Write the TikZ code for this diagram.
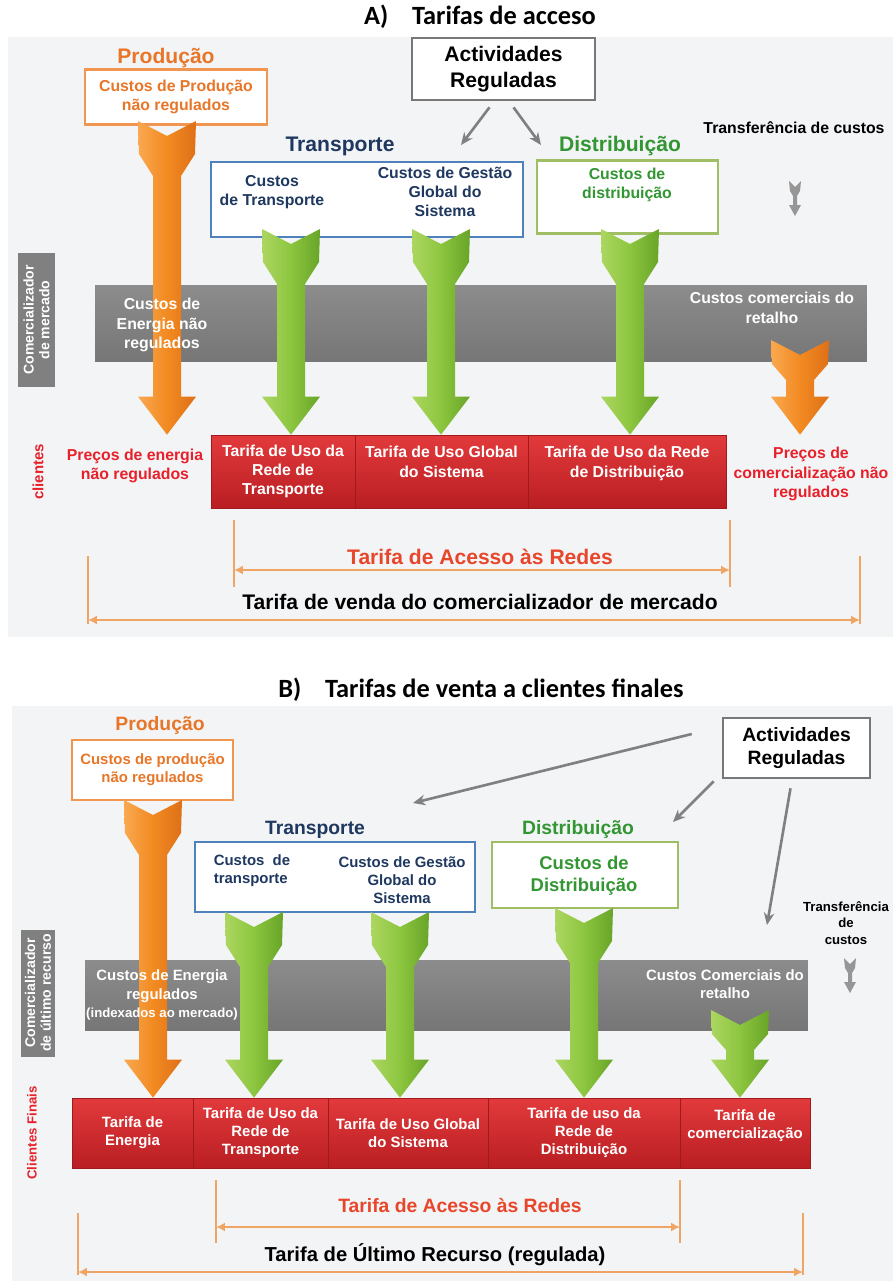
\documentclass[tikz,border=0pt]{standalone}
\usepackage{fontspec}
\setmainfont{Liberation Sans}
\newfontfamily\titulo{Carlito}
\usetikzlibrary{arrows.meta,calc}

\definecolor{fondo}{RGB}{243,244,246}
\definecolor{naranjaT}{RGB}{232,118,40}
\definecolor{naranjaB}{RGB}{240,150,80}
\definecolor{naranjaC}{RGB}{249,168,80}
\definecolor{naranjaM}{RGB}{242,138,33}
\definecolor{naranjaO}{RGB}{222,112,24}
\definecolor{naranjaL}{RGB}{240,165,100}
\definecolor{azulT}{RGB}{31,56,96}
\definecolor{azulB}{RGB}{79,129,189}
\definecolor{verdeT}{RGB}{50,150,50}
\definecolor{verdeB}{RGB}{160,190,100}
\definecolor{verdeC}{RGB}{172,214,96}
\definecolor{verdeM}{RGB}{140,198,63}
\definecolor{verdeO}{RGB}{104,164,40}
\definecolor{grisF}{RGB}{128,128,128}
\definecolor{grisB}{RGB}{120,120,120}
\definecolor{grisL}{RGB}{128,128,128}
\definecolor{grisI}{RGB}{150,150,150}
\definecolor{bandaC}{RGB}{140,140,140}
\definecolor{bandaO}{RGB}{118,118,118}
\definecolor{rojoC}{RGB}{226,58,60}
\definecolor{rojoO}{RGB}{185,30,34}
\definecolor{rojoB}{RGB}{160,25,28}
\definecolor{rojoT}{RGB}{232,32,42}
\definecolor{acceso}{RGB}{232,70,42}

% flecha gruesa: [cuello]{cola}{punta}{estilo}
\newcommand{\flechagorda}[4][55]{%
  \path[#4] ($(#2)+(-29,0)$) -- ($(#2)+(-28,0.6*#1)$) -- ($(#2)+(-14,#1)$)
    -- ($(#3)+(-14,-38)$) -- ($(#3)+(-29,-38)$) -- (#3) -- ($(#3)+(29,-38)$)
    -- ($(#3)+(14,-38)$) -- ($(#2)+(14,#1)$) -- ($(#2)+(28,0.6*#1)$)
    -- ($(#2)+(29,0)$) -- ($(#2)+(0,15)$) -- cycle;}
% icono de transferencia de custos
\newcommand{\icono}[2]{%
  \fill[grisI] (#1-6,#2) -- (#1,#2+6) -- (#1+6,#2) -- (#1+5,#2+10) -- (#1+2,#2+15)
    -- (#1+2,#2+24) -- (#1+6,#2+24) -- (#1,#2+35) -- (#1-6,#2+24) -- (#1-2,#2+24)
    -- (#1-2,#2+15) -- (#1-5,#2+10) -- cycle;}

\begin{document}
\begin{tikzpicture}[x=0.02cm, y=-0.02cm,
  tit/.style={font=\titulo\bfseries\fontsize{15}{18}\selectfont},
  etiq/.style={font=\bfseries\fontsize{12}{14}\selectfont, inner sep=1pt},
  etiqB/.style={font=\bfseries\fontsize{11}{13}\selectfont, inner sep=1pt},
  txt/.style={font=\bfseries\fontsize{9}{11}\selectfont, align=center, inner sep=1pt},
  txtB/.style={font=\bfseries\fontsize{8.5}{10.3}\selectfont, align=center, inner sep=1pt},
  caja/.style={line width=1.3pt, fill=white},
  cajaact/.style={draw=grisB, line width=1.5pt, fill=white, align=center},
  banda/.style={top color=bandaC, bottom color=bandaO},
  lateral/.style={fill=grisL, text=white, rotate=90, align=center, inner sep=1pt,
    font=\bfseries\fontsize{8}{9}\selectfont},
  tarifa/.style={top color=rojoC, bottom color=rojoO, draw=rojoB, text=white},
  flechaN/.style={left color=naranjaC, right color=naranjaO, middle color=naranjaM},
  flechaV/.style={left color=verdeC, right color=verdeO, middle color=verdeM},
  gris/.style={draw=grisF, line width=1.5pt, -{Stealth[length=7pt,width=6pt]}},
  cota/.style={draw=naranjaL, line width=1.6pt},
  doble/.style={{Latex[length=5pt,width=5pt]}-{Latex[length=5pt,width=5pt]}}]

  \useasboundingbox (0,0) rectangle (893,1281);
  % Fondos
  \fill[fondo] (8,37) rectangle (893,637);
  \fill[fondo] (12,706) rectangle (893,1281);

  % ================= A) Tarifas de acceso
  \node[tit] (titA) at (480,17) {A)\hspace{0.9em}Tarifas de acceso};

  % Produccion
  \node[etiq, text=naranjaT] (prodA-e) at (166,58) {Produção};
  \node[caja, draw=naranjaB, txt, text=naranjaT, minimum width=3.64cm, minimum height=1.1cm] (prodA) at (176,97) {Custos de Produção\\não regulados};

  % Actividades reguladas
  \node[cajaact, font=\bfseries\fontsize{12}{14.5}\selectfont, minimum width=3.66cm, minimum height=1.24cm] (actA) at (503.5,69) {Actividades\\Reguladas};
  \coordinate (actA-1) at (461,145);
  \coordinate (actA-2) at (541,145);
  \draw[gris] ($(actA.south)+(-14,6)$) -- (actA-1);
  \draw[gris] ($(actA.south)+(10,6)$) -- (actA-2);

  % Transporte
  \node[etiq, text=azulT] (trA-e) at (340,146) {Transporte};
  \node[caja, draw=azulB, minimum width=6.24cm, minimum height=1.5cm] (trA) at (367,199.5) {};
  \node[txt, text=azulT] (trA-1) at (272,192) {Custos\\de Transporte};
  \node[txt, text=azulT] (trA-2) at (445,192) {Custos de Gestão\\Global do\\Sistema};

  % Distribucion
  \node[etiq, text=verdeT] (diA-e) at (620,146) {Distribuição};
  \node[caja, draw=verdeB, minimum width=3.62cm, minimum height=1.46cm] (diA) at (627.5,197) {};
  \node[txt, text=verdeT] (diA-1) at (627,185) {Custos de\\distribuição};

  % Transferencia de custos
  \node[txt] (tcA) at (794,128) {Transferência de custos};
  \icono{795}{181}

  % Comercializador
  \node[banda, minimum width=15.44cm, minimum height=1.54cm] (bA) at (481,323.5) {};
  \node[lateral, minimum width=2.68cm, minimum height=0.74cm] (latA) at (36.5,320) {Comercializador\\de mercado};
  \node[txt, text=rojoT, rotate=90, font=\bfseries\fontsize{8.5}{10}\selectfont] (clA) at (38,472) {clientes};

  % Tarifas
  \node[tarifa, txt, minimum width=2.88cm, minimum height=1.46cm] (tA1) at (283,471.5) {Tarifa de Uso da\\Rede de\\Transporte};
  \node[tarifa, txt, minimum width=3.46cm, minimum height=1.46cm] (tA2) at (441.5,471.5) {Tarifa de Uso Global\\do Sistema\\\mbox{}};
  \node[tarifa, txt, minimum width=3.96cm, minimum height=1.46cm] (tA3) at (627,471.5) {Tarifa de Uso da Rede\\de Distribuição\\\mbox{}};
  \node[txt, text=rojoT] (peA) at (135,466) {Preços de energia\\não regulados};
  \node[txt, text=rojoT] (pcA) at (811,474) {Preços de\\comercialização não\\regulados};

  % Flechas gruesas
  \coordinate (fA0) at (167,121);
  \coordinate (fA1) at (291,229);
  \coordinate (fA2) at (441,229);
  \coordinate (fA3) at (630,229);
  \coordinate (fA4) at (800,340);
  \foreach \i in {0,...,4} {\coordinate (pA\i) at (fA\i |- tA1.north);}
  \flechagorda{fA0}{pA0}{flechaN}
  \foreach \i in {1,2,3} {\flechagorda{fA\i}{pA\i}{flechaV}}
  \flechagorda[40]{fA4}{pA4}{flechaN}
  \node[txt, text=white] (ceA) at (162,325) {Custos de\\Energia não\\regulados};
  \node[txt, text=white] (ccA) at (772,308) {Custos comerciais do\\retalho};

  % Tarifa de acceso a las redes
  \coordinate (acA-i) at (234,570);
  \coordinate (acA-d) at (730,570);
  \draw[cota] ($(acA-i)+(0,-50)$) -- ($(acA-i)+(0,17)$);
  \draw[cota] ($(acA-d)+(0,-50)$) -- ($(acA-d)+(0,17)$);
  \draw[cota, doble] (acA-i) -- (acA-d);
  \node[etiq, text=acceso] (acA) at (480,557) {Tarifa de Acesso às Redes};

  % Tarifa de venda
  \coordinate (vA-i) at (88,620);
  \coordinate (vA-d) at (860,620);
  \draw[cota] ($(vA-i)+(0,-64)$) -- ($(vA-i)+(0,4)$);
  \draw[cota] ($(vA-d)+(0,-64)$) -- ($(vA-d)+(0,4)$);
  \draw[cota, doble] (vA-i) -- (vA-d);
  \node[etiq] (vA) at (480,602) {Tarifa de venda do comercializador de mercado};

  % ================= B) Tarifas de venta a clientes finales
  \node[tit] (titB) at (481,690) {B)\hspace{0.9em}Tarifas de venta a clientes finales};

  % Produccion
  \node[etiqB, text=naranjaT] (prodB-e) at (160,725) {Produção};
  \node[caja, draw=naranjaB, txtB, text=naranjaT, minimum width=3.22cm, minimum height=1.2cm] (prodB) at (152.5,770) {Custos de produção\\não regulados};

  % Actividades reguladas
  \node[cajaact, font=\bfseries\fontsize{11}{13.5}\selectfont, minimum width=2.94cm, minimum height=1.2cm] (actB) at (796.5,748) {Actividades\\Reguladas};
  \coordinate (actB-1) at (413,803);
  \coordinate (actB-2) at (673,822);
  \coordinate (actB-3) at (767,925);
  \draw[gris] ($(actB.west)+(-30,-14)$) -- (actB-1);
  \draw[gris] ($(actB.south west)+(-8,2)$) -- (actB-2);
  \draw[gris] ($(actB.south)+(-6,9)$) -- (actB-3);

  % Transporte
  \node[etiqB, text=azulT] (trB-e) at (315,830) {Transporte};
  \node[caja, draw=azulB, minimum width=5.6cm, minimum height=1.4cm] (trB) at (335,877) {};
  \node[txtB, text=azulT, align=left] (trB-1) at (252,871) {Custos\ \ de\\transporte};
  \node[txtB, text=azulT] (trB-2) at (402,880) {Custos de Gestão\\Global do\\Sistema};

  % Distribucion
  \node[etiqB, text=verdeT] (diB-e) at (578,829) {Distribuição};
  \node[caja, draw=verdeB, minimum width=3.72cm, minimum height=1.32cm] (diB) at (585,875) {};
  \node[txtB, text=verdeT, font=\bfseries\fontsize{10.5}{12.5}\selectfont] (diB-1) at (584,876) {Custos de\\Distribuição};

  % Transferencia de custos
  \node[txtB, font=\bfseries\fontsize{7.5}{9.2}\selectfont] (tcB) at (846,923) {Transferência\\de\\custos};
  \icono{850}{958}

  % Comercializador de ultimo recurso
  \node[banda, minimum width=14.46cm, minimum height=1.4cm] (bB) at (446.5,995) {};
  \node[lateral, minimum width=2.54cm, minimum height=0.7cm] (latB) at (38,993) {Comercializador\\de último recurso};
  \node[txtB, text=rojoT, rotate=90, font=\bfseries\fontsize{7.5}{9}\selectfont] (clB) at (32,1133) {Clientes Finais};

  % Tarifas
  \node[tarifa, txtB, minimum width=2.42cm, minimum height=1.4cm] (tB1) at (132.5,1133) {Tarifa de\\Energia};
  \node[tarifa, txtB, minimum width=2.7cm, minimum height=1.4cm] (tB2) at (260.5,1133) {Tarifa de Uso da\\Rede de\\Transporte};
  \node[tarifa, txtB, minimum width=3.2cm, minimum height=1.4cm] (tB3) at (408,1133) {Tarifa de Uso Global\\do Sistema};
  \node[tarifa, txtB, minimum width=3.84cm, minimum height=1.4cm] (tB4) at (584,1133) {Tarifa de uso da\\Rede de\\Distribuição};
  \node[tarifa, txtB, minimum width=2.6cm, minimum height=1.4cm] (tB5) at (745,1133) {Tarifa de\\comercialização\\\mbox{}};

  % Flechas gruesas
  \coordinate (fB0) at (153,800);
  \coordinate (fB1) at (254,912);
  \coordinate (fB2) at (400,912);
  \coordinate (fB3) at (584,908);
  \coordinate (fB4) at (740,1010);
  \foreach \i in {0,...,4} {\coordinate (pB\i) at (fB\i |- tB1.north);}
  \flechagorda{fB0}{pB0}{flechaN}
  \foreach \i in {1,2,3} {\flechagorda{fB\i}{pB\i}{flechaV}}
  \flechagorda[40]{fB4}{pB4}{flechaV}
  \node[txtB, text=white] (ceB) at (162,995) {Custos de Energia\\regulados\\{\fontsize{7.5}{9}\selectfont(indexados ao mercado)}};
  \node[txtB, text=white] (ccB) at (725,984) {Custos Comerciais do\\retalho};

  % Tarifa de acceso a las redes
  \coordinate (acB-i) at (216,1227);
  \coordinate (acB-d) at (680,1227);
  \draw[cota] ($(acB-i)+(0,-47)$) -- ($(acB-i)+(0,16)$);
  \draw[cota] ($(acB-d)+(0,-47)$) -- ($(acB-d)+(0,16)$);
  \draw[cota, doble] (acB-i) -- (acB-d);
  \node[etiqB, text=acceso] (acB) at (460,1205) {Tarifa de Acesso às Redes};

  % Tarifa de ultimo recurso
  \coordinate (vB-i) at (78,1272);
  \coordinate (vB-d) at (803,1272);
  \draw[cota] ($(vB-i)+(0,-59)$) -- ($(vB-i)+(0,3)$);
  \draw[cota] ($(vB-d)+(0,-59)$) -- ($(vB-d)+(0,3)$);
  \draw[cota, doble] (vB-i) -- (vB-d);
  \node[etiqB, font=\bfseries\fontsize{11.5}{14}\selectfont] (vB) at (435,1255) {Tarifa de Último Recurso (regulada)};
\end{tikzpicture}
\end{document}
